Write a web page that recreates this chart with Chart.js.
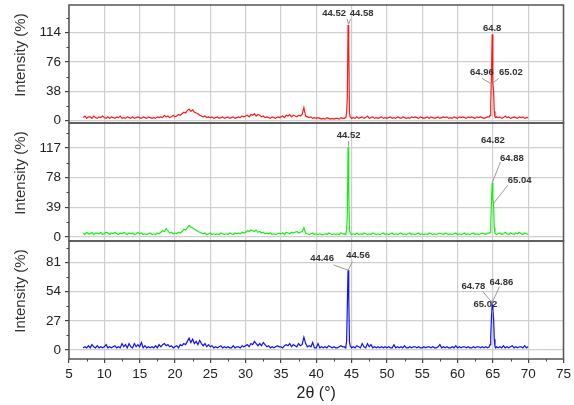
<!DOCTYPE html>
<html>
<head>
<meta charset="utf-8">
<script src="https://cdn.jsdelivr.net/npm/chart.js@4.4.1/dist/chart.umd.min.js"></script>
<style>
  html, body { margin: 0; padding: 0; background: #fff; }
</style>
</head>
<body>
<canvas id="xrd" width="574" height="405"></canvas>
<script>
// 2-theta sampling (finer around the two peaks)
const angles = [
  7,7.25,7.5,7.75, 8,8.25,8.5,8.75, 9,9.25,9.5,9.75, 10,10.25,10.5,10.75,
  11,11.25,11.5,11.75, 12,12.25,12.5,12.75, 13,13.25,13.5,13.75, 14,14.25,14.5,14.75,
  15,15.25,15.5,15.75, 16,16.25,16.5,16.75, 17,17.25,17.5,17.75, 18,18.25,18.5,18.75,
  19,19.25,19.5,19.75, 20,20.25,20.5,20.75, 21,21.25,21.5,21.75, 22,22.25,22.5,22.75,
  23,23.25,23.5,23.75, 24,24.25,24.5,24.75, 25,25.25,25.5,25.75, 26,26.25,26.5,26.75,
  27,27.25,27.5,27.75, 28,28.25,28.5,28.75, 29,29.25,29.5,29.75, 30,30.25,30.5,30.75,
  31,31.25,31.5,31.75, 32,32.25,32.5,32.75, 33,33.25,33.5,33.75, 34,34.25,34.5,34.75,
  35,35.25,35.5,35.75, 36,36.25,36.5,36.75, 37,37.25,37.5,37.75, 38,38.25,38.5,38.75,
  39,39.25,39.5,39.75, 40,40.25,40.5,40.75, 41,41.25,41.5,41.75, 42,42.25,42.5,42.75,
  43,43.25,43.5,43.75,
  44,44.1,44.2,44.3,44.4,44.5,44.6,44.7,44.8,44.9,45,
  45.25,45.5,45.75,
  46,46.25,46.5,46.75, 47,47.25,47.5,47.75, 48,48.25,48.5,48.75, 49,49.25,49.5,49.75,
  50,50.25,50.5,50.75, 51,51.25,51.5,51.75, 52,52.25,52.5,52.75, 53,53.25,53.5,53.75,
  54,54.25,54.5,54.75, 55,55.25,55.5,55.75, 56,56.25,56.5,56.75, 57,57.25,57.5,57.75,
  58,58.25,58.5,58.75, 59,59.25,59.5,59.75, 60,60.25,60.5,60.75, 61,61.25,61.5,61.75,
  62,62.25,62.5,62.75, 63,63.25,63.5,63.75,
  64,64.25,
  64.5,64.6,64.7,64.8,64.9,65,65.1,65.2,65.3,65.4,65.5,
  65.75,
  66,66.25,66.5,66.75, 67,67.25,67.5,67.75, 68,68.25,68.5,68.75, 69,69.25,69.5,69.75,
  70
];

const redI = [
  4,6,3,5, 5,3,6,4, 3,5,4,6, 4,3,5,3,
  5,4,3,5, 4,6,3,4, 3,5,4,3, 5,3,4,5,
  4,3,5,4, 3,5,4,3, 4,3,5,4, 5,4,7,5,
  6,4,5,7, 5,6,8,7, 9,11,10,13, 15,12,14,11,
  10,9,7,6, 5,6,4,5, 4,5,3,4, 5,3,4,5,
  3,4,5,3, 4,5,3,4, 5,4,6,5, 6,7,5,8,
  7,9,6,8, 7,5,6,4, 5,4,3,5, 4,3,5,4,
  5,6,4,7, 6,8,5,7, 6,5,7,6, 8,17,6,5,
  4,5,3,4, 3,4,3,2, 3,2,4,3, 2,3,2,3,
  3,2,4,3,
  3,4,5,10,30,124,100,10,5,4,3,
  4,3,5,
  3,4,5,3, 4,6,3,4, 5,3,4,3, 4,5,3,4,
  3,4,5,3, 4,3,5,4, 3,5,4,3, 4,3,5,4,
  5,4,3,5, 4,3,4,5, 3,5,4,3, 4,5,3,4,
  5,4,5,3, 4,3,5,4, 3,5,4,5, 4,3,5,4,
  5,4,3,5, 4,5,4,3,
  4,5,
  5,7,20,60,112,48,40,12,5,4,5,
  4,
  5,3,4,6, 4,5,3,4, 5,4,3,5, 4,5,3,4,
  4
];

const greenI = [
  5,3,6,4, 4,6,3,5, 5,4,6,3, 4,6,5,3,
  5,4,6,4, 3,5,4,6, 4,3,5,4, 5,3,4,6,
  4,5,3,4, 3,4,5,3, 4,3,5,4, 6,8,7,11,
  8,5,6,4, 5,4,6,5, 7,10,9,12, 15,13,12,10,
  9,7,6,5, 4,5,3,4, 5,3,4,3, 4,3,5,4,
  3,4,3,5, 4,3,5,4, 5,4,6,5, 6,8,7,9,
  8,7,9,6, 7,5,6,4, 5,4,5,3, 4,3,4,5,
  4,5,3,6, 5,4,6,5, 6,7,5,6, 7,12,5,4,
  3,4,5,3, 4,3,4,3, 3,4,3,5, 4,3,4,3,
  4,3,5,4,
  4,3,5,8,30,118,60,9,5,4,3,
  4,3,5,
  3,4,3,5, 4,3,4,3, 5,4,3,4, 3,4,5,3,
  4,3,4,5, 3,4,3,4, 5,3,4,3, 4,5,3,4,
  3,4,5,3, 4,3,4,3, 5,4,3,4, 3,4,5,4,
  3,5,4,3, 4,3,4,5, 3,4,3,4, 5,3,4,3,
  4,5,3,4, 3,4,5,4,
  3,5,
  5,6,15,45,71,50,44,12,5,4,3,
  4,
  5,3,4,6, 4,3,5,4, 3,5,4,6, 4,3,5,4,
  3
];

const blueI = [
  2,3,2,4, 2,5,3,2, 4,2,3,2, 3,5,2,3,
  2,3,4,2, 3,2,6,3, 5,2,6,3, 2,6,3,5,
  3,7,2,4, 2,3,2,3, 2,4,2,5, 3,5,6,4,
  5,3,4,2, 3,4,2,5, 4,6,5,8, 11,7,10,6,
  8,5,9,6, 4,6,3,5, 3,4,2,3, 2,3,4,2,
  3,2,3,2, 2,4,2,3, 3,2,4,3, 4,5,3,6,
  5,8,6,4, 6,4,7,5, 3,4,2,3, 2,3,4,3,
  3,2,4,5, 4,6,3,5, 4,3,6,4, 5,12,6,3,
  4,3,7,2, 2,6,2,3, 2,3,2,4, 3,2,3,2,
  2,3,4,3,
  3,2,4,8,40,74,50,8,4,3,2,
  3,2,4,
  3,2,6,3, 2,6,3,5, 2,3,2,3, 2,3,2,3,
  2,3,2,2, 5,2,3,2, 3,2,4,2, 2,3,2,3,
  3,2,3,2, 2,3,2,3, 3,2,3,2, 2,3,5,2,
  3,2,3,2, 2,3,2,4, 2,3,2,3, 3,2,3,2,
  2,3,2,3, 3,2,3,2,
  3,2,
  3,5,12,30,42,38,30,10,3,2,3,
  2,
  3,2,4,2, 3,2,3,4, 2,3,2,3, 3,2,4,2,
  3
];

// axis ticks
const xTicks = [5,10,15,20,25,30,35,40,45,50,55,60,65,70,75];
const xMinor = [7.5,12.5,17.5,22.5,27.5,32.5,37.5,42.5,47.5,52.5,57.5,62.5,67.5,72.5];
const topTicks = [0,38,76,114];
const topMinor = [19,57,95,133];
const midTicks = [0,39,78,117];
const midMinor = [19.5,58.5,97.5,136.5];
const botTicks = [0,27,54,81];
const botMinor = [13.5,40.5,67.5,94.5];

// peak labels: text, point on the peak, label / leader offsets in px
const topNotes = [
  { text: '44.52', at: [44.58, 125], label: [-14.5, -10.9], line: [-1.5, -5.2] },
  { text: '44.58', at: [44.58, 125], label: [13, -10.9], line: [2, -5.2] },
  { text: '64.8',  at: [64.9, 112], label: [0, -6] },
  { text: '64.96', at: [64.9, 47], label: [-10.3, -11.7], line: [-10.3, -6.1] },
  { text: '65.02', at: [65.0, 49], label: [18, -10.2], line: [6, -4.6] }
];
const midNotes = [
  { text: '44.52', at: [44.58, 119], label: [0, -11.4], line: [0, -5.4] },
  { text: '64.82', at: [64.9, 71], label: [0.7, -42.1] },
  { text: '64.88', at: [64.9, 71], label: [19.7, -24.5], line: [8.4, -21.1] },
  { text: '65.04', at: [65.1, 44], label: [26, -23.3], line: [14.3, -18.3] }
];
const botNotes = [
  { text: '44.46', at: [44.5, 74], label: [-26, -11.9], line: [-14.5, -5.2] },
  { text: '44.56', at: [44.5, 74], label: [10, -14.5], line: [4.5, -8.5] },
  { text: '64.78', at: [64.9, 44], label: [-18.8, -15.9], line: [-9.3, -10.9] },
  { text: '64.86', at: [64.9, 44], label: [9.2, -19.9], line: [7.4, -15.9] },
  { text: '65.02', at: [65.0, 30], label: [-7.5, -13.7], line: [-0.7, -7.7] }
];

const yTitle = 'Intensity (%)';

const toPoints = (ys) => angles.map((a, i) => ({ x: a, y: ys[i] }));

const gridColor = '#cfcfcf';
const textColor = '#222';

function yAxis(min, max, major) {
  return {
    type: 'linear',
    position: 'left',
    stack: 'panels',
    stackWeight: 1,
    min: min,
    max: max,
    afterBuildTicks: (s) => { s.ticks = major.map(v => ({ value: v })); },
    afterFit: (s) => { s.width = 69; s.paddingTop = 0; s.paddingBottom = 0; },
    border: { display: false },
    grid: { color: gridColor, lineWidth: 1.2, tickLength: 4, tickColor: '#444' },
    ticks: { color: textColor, padding: 4, font: { family: 'Liberation Sans, Arial', size: 13.5 } }
  };
}

const panelPlugin = {
  id: 'panels',
  afterDraw(chart) {
    const ctx = chart.ctx;
    const xs = chart.scales.x;
    const area = chart.chartArea;
    ctx.save();

    // frames around each panel, and the panel titles (sit a bit above centre)
    ['yTop', 'yMid', 'yBot'].forEach(id => {
      const s = chart.scales[id];
      ctx.strokeStyle = '#555';
      ctx.lineWidth = 1.5;
      ctx.strokeRect(area.left, s.top, area.right - area.left, s.bottom - s.top);

      ctx.save();
      ctx.translate(21, (s.top + s.bottom) / 2 - 9);
      ctx.rotate(-Math.PI / 2);
      ctx.font = '15px "Liberation Sans", Arial';
      ctx.fillStyle = '#333';
      ctx.textAlign = 'center';
      ctx.textBaseline = 'middle';
      ctx.fillText(yTitle, 0, 0);
      ctx.restore();
    });

    // minor ticks
    ctx.strokeStyle = '#444';
    ctx.lineWidth = 1;
    xMinor.forEach(v => {
      const px = Math.round(xs.getPixelForValue(v)) + 0.5;
      ctx.beginPath();
      ctx.moveTo(px, area.bottom);
      ctx.lineTo(px, area.bottom + 2.5);
      ctx.stroke();
    });
    [['yTop', topMinor], ['yMid', midMinor], ['yBot', botMinor]].forEach(([id, vals]) => {
      const s = chart.scales[id];
      vals.forEach(v => {
        const py = Math.round(s.getPixelForValue(v)) + 0.5;
        ctx.beginPath();
        ctx.moveTo(area.left - 2.5, py);
        ctx.lineTo(area.left, py);
        ctx.stroke();
      });
    });

    // peak labels
    ctx.font = 'bold 9.5px "Liberation Sans", Arial';
    ctx.fillStyle = '#333';
    ctx.textAlign = 'center';
    ctx.textBaseline = 'middle';
    [['yTop', topNotes], ['yMid', midNotes], ['yBot', botNotes]].forEach(([id, notes]) => {
      const s = chart.scales[id];
      notes.forEach(n => {
        const px = xs.getPixelForValue(n.at[0]);
        const py = s.getPixelForValue(n.at[1]);
        if (n.line) {
          ctx.strokeStyle = '#9a9a9a';
          ctx.lineWidth = 1;
          ctx.beginPath();
          ctx.moveTo(px + n.line[0], py + n.line[1]);
          ctx.lineTo(px, py);
          ctx.stroke();
        }
        ctx.fillText(n.text, px + n.label[0], py + n.label[1]);
      });
    });
    ctx.restore();
  }
};

const line = (label, data, color, axis) => ({
  label: label,
  data: toPoints(data),
  yAxisID: axis,
  borderColor: color,
  borderWidth: 1.2,
  pointRadius: 0,
  tension: 0,
  fill: false
});

new Chart(document.getElementById('xrd'), {
  type: 'line',
  data: {
    datasets: [
      line('top', redI, '#ff1a1a', 'yTop'),
      line('middle', greenI, '#14f014', 'yMid'),
      line('bottom', blueI, '#1010ff', 'yBot')
    ]
  },
  options: {
    responsive: false,
    animation: false,
    layout: { padding: { top: 5, right: 8, left: 0, bottom: 0 } },
    plugins: { legend: { display: false }, tooltip: { enabled: false } },
    scales: {
      x: {
        type: 'linear',
        min: 5,
        max: 75,
        afterBuildTicks: (s) => { s.ticks = xTicks.map(v => ({ value: v })); },
        afterFit: (s) => { s.height = 46; },
        border: { display: false },
        grid: { color: gridColor, lineWidth: 1.2, tickLength: 4, tickColor: '#444' },
        ticks: { color: textColor, padding: 3, maxRotation: 0, font: { family: 'Liberation Sans, Arial', size: 13.5 } },
        title: {
          display: true,
          text: '2θ (°)',
          color: '#222',
          padding: { top: 0, bottom: 2 },
          font: { family: 'Liberation Sans, Arial', size: 16 }
        }
      },
      // stacked axes are laid out bottom-up in listing order
      yBot: yAxis(-8.3, 101, botTicks),
      yMid: yAxis(-5.5, 150, midTicks),
      yTop: yAxis(-3, 150, topTicks)
    }
  },
  plugins: [panelPlugin]
});
</script>
</body>
</html>
